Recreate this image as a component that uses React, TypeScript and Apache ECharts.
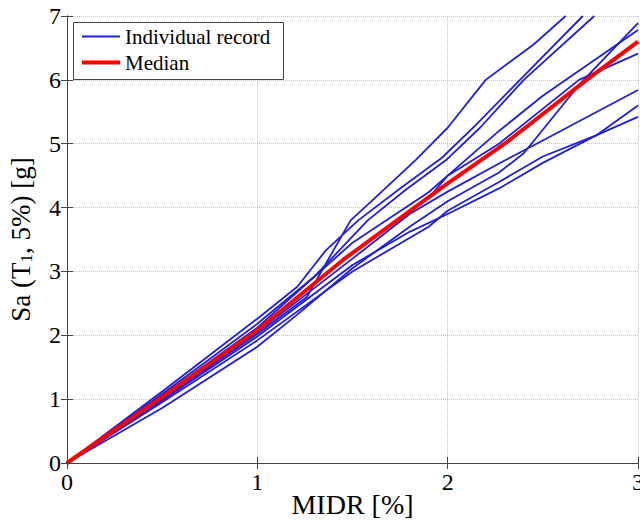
import React, { useEffect, useRef } from "react";
import * as echarts from "echarts";

// MIDR [%] vs Sa(T1, 5%) [g] — individual records and median
const xTicks = [0, 1, 2, 3];
const yTicks = [0, 1, 2, 3, 4, 5, 6, 7];

const record1 = [[0, 0], [0.5, 1.0], [1, 2.02], [1.26, 2.6], [1.49, 3.8], [1.6, 4.1], [1.83, 4.74], [2.0, 5.25], [2.2, 6.0], [2.45, 6.55], [2.62, 7.0]];
const record2 = [[0, 0], [0.5, 1.12], [1, 2.26], [1.21, 2.76], [1.36, 3.33], [1.53, 3.8], [1.75, 4.3], [1.97, 4.78], [2.15, 5.3], [2.38, 6.0], [2.71, 7.0]];
const record3 = [[0, 0], [0.5, 1.08], [1, 2.18], [1.3, 2.92], [1.58, 3.8], [1.78, 4.28], [1.99, 4.74], [2.17, 5.25], [2.4, 6.0], [2.77, 7.0]];
const record4 = [[0, 0], [0.5, 1.05], [1, 2.12], [1.5, 3.45], [1.9, 4.24], [2.0, 4.5], [2.27, 5.2], [2.5, 5.75], [3, 6.78]];
const record5 = [[0, 0], [0.5, 0.86], [1, 1.82], [1.2, 2.3], [1.5, 3.05], [1.8, 3.7], [2.0, 4.1], [2.27, 4.55], [2.4, 4.85], [2.69, 5.92], [3, 6.89]];
const record6 = [[0, 0], [0.5, 1.04], [1, 2.08], [1.5, 3.3], [1.9, 4.15], [2.0, 4.5], [2.27, 5.0], [2.69, 6.0], [3, 6.41]];
const record7 = [[0, 0], [0.5, 1.02], [1, 2.05], [1.5, 3.2], [1.8, 3.9], [2.0, 4.25], [2.27, 4.69], [2.5, 5.05], [3, 5.84]];
const record8 = [[0, 0], [0.5, 0.98], [1, 1.98], [1.5, 3.1], [1.8, 3.62], [2.0, 3.9], [2.27, 4.3], [2.5, 4.7], [2.78, 5.13], [3, 5.6]];
const record9 = [[0, 0], [0.5, 0.95], [1, 1.92], [1.5, 3.0], [1.9, 3.7], [2.0, 3.95], [2.27, 4.4], [2.5, 4.8], [2.78, 5.13], [3, 5.42]];
const median = [[0, 0], [0.5, 1.03], [1, 2.08], [1.45, 3.18], [2, 4.38], [2.3, 5.0], [2.73, 6.0], [3, 6.6]];

const records = [record1, record2, record3, record4, record5, record6, record7, record8, record9];
const legendNames = ["Individual record", "Median"];

const FONT = "Liberation Serif";
const BLUE = "#1f1fd6";
const RED = "#ff0000";

export default function App() {
  const ref = useRef<HTMLDivElement>(null);
  useEffect(() => {
    if (!ref.current) return;
    const chart = echarts.init(ref.current, undefined, { renderer: "svg" });
    const axisLine = { show: true, lineStyle: { color: "#444", width: 1 } };
    const tick = { show: true, inside: true, length: 6, lineStyle: { color: "#444" } };
    const splitLine = { show: true, lineStyle: { color: "#c4c4c4", type: "dotted", width: 1 } };
    const series: any[] = records.map((r) => ({
      name: legendNames[0],
      type: "line",
      data: r,
      symbol: "none",
      showSymbol: false,
      lineStyle: { color: BLUE, width: 1.8 },
      itemStyle: { color: BLUE },
      clip: true,
      z: 2,
    }));
    series.push({
      name: legendNames[1],
      type: "line",
      data: median,
      symbol: "none",
      showSymbol: false,
      lineStyle: { color: RED, width: 4 },
      itemStyle: { color: RED },
      clip: true,
      z: 3,
    });
    const legendBase = {
      left: 82,
      orient: "vertical",
      padding: 0,
      itemWidth: 38,
      icon: "rect",
      textStyle: { fontFamily: FONT, fontSize: 21, color: "#000", padding: [0, 0, 0, 0] },
      z: 10,
    };
    chart.setOption({
      animation: false,
      backgroundColor: "#fff",
      textStyle: { fontFamily: FONT },
      grid: { left: 67, right: 2, top: 16, bottom: 59, show: false, containLabel: false, outerBoundsMode: "none" },
      graphic: [
        {
          type: "rect",
          left: 73,
          top: 22,
          shape: { width: 210, height: 57 },
          style: { fill: "#fff", stroke: "#444", lineWidth: 1 },
          z: 5,
        },
      ],
      legend: [
        { ...legendBase, top: 26, itemHeight: 2, data: [legendNames[0]] },
        { ...legendBase, top: 52, itemHeight: 4, data: [legendNames[1]] },
      ],
      xAxis: [
        {
          type: "value",
          min: 0,
          max: 3,
          interval: 1,
          axisLine,
          axisTick: tick,
          axisLabel: { fontFamily: FONT, fontSize: 24, color: "#000", margin: 7, formatter: (v: number) => String(v) },
          splitLine,
          name: "MIDR [%]",
          nameLocation: "middle",
          nameGap: 27,
          nameMoveOverlap: false,
          nameTextStyle: { fontFamily: FONT, fontSize: 28, color: "#000" },
        },
        {
          type: "value",
          position: "top",
          min: 0,
          max: 3,
          interval: 1,
          axisLine,
          axisTick: tick,
          axisLabel: { show: false },
          splitLine: { show: false },
        },
      ],
      yAxis: [
        {
          type: "value",
          min: 0,
          max: 7,
          interval: 1,
          axisLine,
          axisTick: tick,
          axisLabel: { fontFamily: FONT, fontSize: 24, color: "#000", margin: 6, formatter: (v: number) => String(v) },
          splitLine,
          name: "Sa (T{sub|1}, 5%) [g]",
          nameLocation: "middle",
          nameGap: 32,
          nameMoveOverlap: false,
          nameRotate: 90,
          nameTextStyle: {
            fontFamily: FONT,
            fontSize: 27,
            color: "#000",
            rich: {
              sub: { fontFamily: FONT, fontSize: 17, color: "#000", padding: [12, 0, 0, 0] },
            },
          },
        },
        {
          type: "value",
          position: "right",
          min: 0,
          max: 7,
          interval: 1,
          axisLine,
          axisTick: tick,
          axisLabel: { show: false },
          splitLine: { show: false },
        },
      ],
      series,
    });
    return () => chart.dispose();
  }, []);
  return (
    <div
      ref={ref}
      style={{ position: "fixed", left: 0, top: 0, width: 640, height: 522 }}
    />
  );
}
